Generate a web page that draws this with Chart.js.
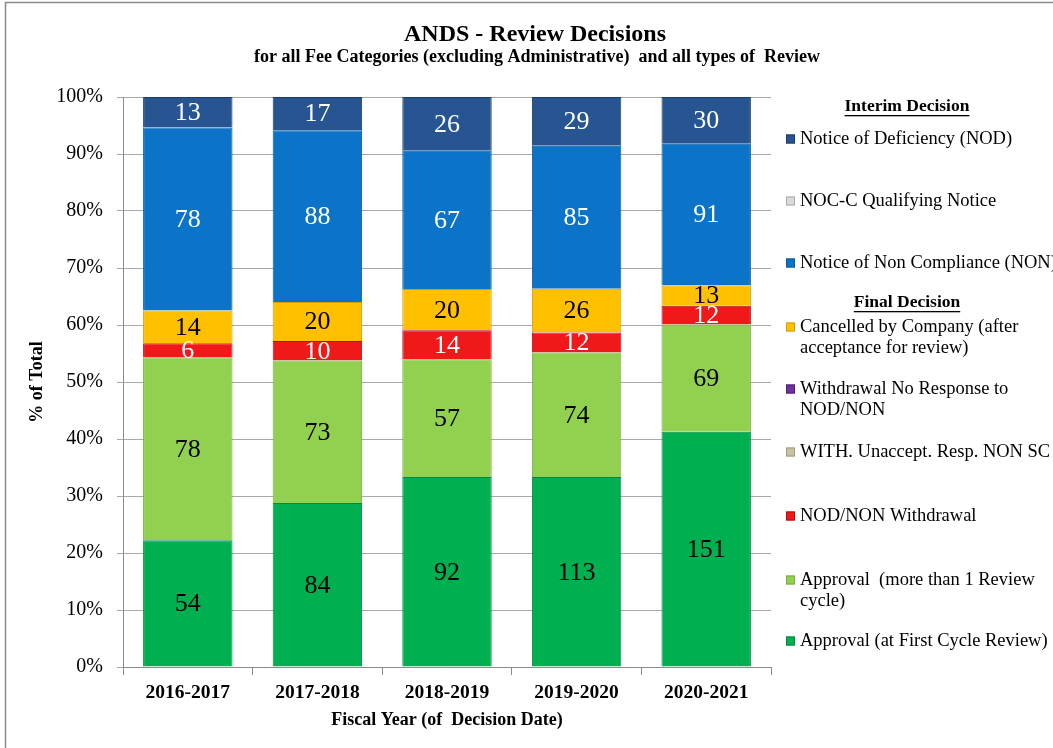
<!DOCTYPE html>
<html>
<head>
<meta charset="utf-8">
<script src="https://cdn.jsdelivr.net/npm/chart.js@4.4.0/dist/chart.umd.min.js"></script>
<style>
    html, body { margin: 0; padding: 0; background: #fff; }
    #wrap { width: 1053px; height: 748px; position: relative; }
</style>
</head>
<body>
<div id="wrap"><canvas id="chart"></canvas></div>
<script>
// Fiscal years (x categories)
const years = ['2016-2017', '2017-2018', '2018-2019', '2019-2020', '2020-2021'];

// Counts per decision type
const approvalFirst = [54, 84, 92, 113, 151];
const approvalMore = [78, 73, 57, 74, 69];
const nodNonWithdrawal = [6, 10, 14, 12, 12];
const withUnaccept = [0, 0, 0, 0, 0];
const withdrawalNoResponse = [0, 0, 0, 0, 0];
const cancelled = [14, 20, 20, 26, 13];
const nonCompliance = [78, 88, 67, 85, 91];
const nocQualifying = [0, 0, 0, 0, 0];
const deficiency = [13, 17, 26, 29, 30];

const chartTitle = 'ANDS - Review Decisions';
const chartSubtitle = 'for all Fee Categories (excluding Administrative)  and all types of  Review';

const SERIF = '"Liberation Serif", "Times New Roman", serif';

// Stack order, bottom to top
const series = [
    { id: 'first', label: 'Approval (at First Cycle Review)', counts: approvalFirst, color: '#00b050', edge: '#00893f', text: '#000' },
    { id: 'more', label: 'Approval  (more than 1 Review cycle)', counts: approvalMore, color: '#92d050', edge: '#76ad3a', text: '#000' },
    { id: 'withdrawal', label: 'NOD/NON Withdrawal', counts: nodNonWithdrawal, color: '#f01818', edge: '#b31010', text: '#fff' },
    { id: 'unaccept', label: 'WITH. Unaccept. Resp. NON SC', counts: withUnaccept, color: '#c9c3a0', edge: '#9f9a7a', text: '#000' },
    { id: 'noResponse', label: 'Withdrawal No Response to NOD/NON', counts: withdrawalNoResponse, color: '#7030a0', edge: '#4f1f73', text: '#fff' },
    { id: 'cancelled', label: 'Cancelled by Company (after acceptance for review)', counts: cancelled, color: '#ffc000', edge: '#d39e00', text: '#000' },
    { id: 'non', label: 'Notice of Non Compliance (NON)', counts: nonCompliance, color: '#0b74c8', edge: '#095a9b', text: '#fff' },
    { id: 'nocc', label: 'NOC-C Qualifying Notice', counts: nocQualifying, color: '#dadada', edge: '#aaaaaa', text: '#000' },
    { id: 'nod', label: 'Notice of Deficiency (NOD)', counts: deficiency, color: '#265591', edge: '#1a3c68', text: '#fff' }
];

// Right-hand legend, top to bottom
const legendRows = [
    { header: 'Interim Decision', y: 106 },
    { id: 'nod', y: 139, lines: ['Notice of Deficiency (NOD)'] },
    { id: 'nocc', y: 201, lines: ['NOC-C Qualifying Notice'] },
    { id: 'non', y: 263, lines: ['Notice of Non Compliance (NON)'] },
    { header: 'Final Decision', y: 302 },
    { id: 'cancelled', y: 327, lines: ['Cancelled by Company (after', 'acceptance for review)'] },
    { id: 'noResponse', y: 389, lines: ['Withdrawal No Response to', 'NOD/NON'] },
    { id: 'unaccept', y: 452, lines: ['WITH. Unaccept. Resp. NON SC'] },
    { id: 'withdrawal', y: 516, lines: ['NOD/NON Withdrawal'] },
    { id: 'more', y: 580, lines: ['Approval  (more than 1 Review', 'cycle)'] },
    { id: 'first', y: 641, lines: ['Approval (at First Cycle Review)'] }
];

const totals = years.map((_, i) => series.reduce((s, d) => s + d.counts[i], 0));

const datasets = series.map(s => ({
    label: s.label,
    seriesId: s.id,
    counts: s.counts,
    labelColor: s.text,
    data: s.counts.map((v, i) => v / totals[i] * 100),
    backgroundColor: s.color,
    borderColor: s.edge,
    borderWidth: 1,
    barPercentage: 0.69,
    categoryPercentage: 1
}));

// White page, outer frame and the two-line heading
const frameAndTitle = {
    id: 'frameAndTitle',
    beforeDraw(chart) {
        const ctx = chart.ctx;
        ctx.save();
        ctx.fillStyle = '#fff';
        ctx.fillRect(0, 0, chart.width, chart.height);
        ctx.strokeStyle = '#8c8c8c';
        ctx.lineWidth = 1.5;
        ctx.beginPath();
        ctx.moveTo(5.5, chart.height);
        ctx.lineTo(5.5, 2.5);
        ctx.lineTo(chart.width, 2.5);
        ctx.stroke();
        ctx.fillStyle = '#000';
        ctx.textAlign = 'center';
        ctx.textBaseline = 'middle';
        ctx.font = 'bold 24px ' + SERIF;
        ctx.fillText(chartTitle, 535, 35);
        ctx.font = 'bold 18px ' + SERIF;
        ctx.fillText(chartSubtitle, 537, 57);
        ctx.restore();
    }
};

// Count labels centred in each segment
const segmentLabels = {
    id: 'segmentLabels',
    afterDatasetsDraw(chart) {
        const ctx = chart.ctx;
        ctx.save();
        ctx.font = '26px ' + SERIF;
        ctx.textAlign = 'center';
        ctx.textBaseline = 'middle';
        chart.data.datasets.forEach((ds, di) => {
            const meta = chart.getDatasetMeta(di);
            meta.data.forEach((bar, i) => {
                const n = ds.counts[i];
                if (!n) return;
                ctx.fillStyle = ds.labelColor;
                ctx.fillText(String(n), bar.x, (bar.y + bar.base) / 2 + 1);
            });
        });
        ctx.restore();
    }
};

// Grouped legend with section headers
const groupedLegend = {
    id: 'groupedLegend',
    afterDraw(chart) {
        const ctx = chart.ctx;
        ctx.save();
        ctx.textBaseline = 'middle';
        legendRows.forEach(row => {
            if (row.header) {
                ctx.font = 'bold 17.5px ' + SERIF;
                ctx.fillStyle = '#000';
                ctx.textAlign = 'center';
                ctx.fillText(row.header, 907, row.y);
                const w = ctx.measureText(row.header).width;
                ctx.fillRect(907 - w / 2, row.y + 9, w, 1.3);
                return;
            }
            const ds = chart.data.datasets.find(d => d.seriesId === row.id);
            ctx.fillStyle = ds.backgroundColor;
            ctx.fillRect(786, row.y - 4.5, 9, 9);
            ctx.strokeStyle = ds.borderColor;
            ctx.lineWidth = 1;
            ctx.strokeRect(786.5, row.y - 4, 8, 8);
            ctx.fillStyle = '#000';
            ctx.textAlign = 'left';
            ctx.font = '18.5px ' + SERIF;
            row.lines.forEach((line, k) => ctx.fillText(line, 800, row.y + k * 21));
        });
        ctx.restore();
    }
};

new Chart(document.getElementById('chart'), {
    type: 'bar',
    data: { labels: years, datasets },
    options: {
        responsive: true,
        maintainAspectRatio: false,
        animation: false,
        layout: { padding: { top: 97, right: 282, left: 0, bottom: 0 } },
        plugins: {
            legend: { display: false },
            tooltip: { enabled: false }
        },
        scales: {
            x: {
                stacked: true,
                afterFit: scale => { scale.height = 81; },
                grid: { drawOnChartArea: false, drawTicks: true, tickLength: 8, color: '#8c8c8c' },
                border: { color: '#8c8c8c' },
                ticks: { color: '#000', padding: 6, font: { family: SERIF, size: 19.5, weight: 'bold' } },
                title: {
                    display: true,
                    text: 'Fiscal Year (of  Decision Date)',
                    color: '#000',
                    font: { family: SERIF, size: 18, weight: 'bold' },
                    padding: { top: 0, bottom: 17 }
                }
            },
            y: {
                stacked: true,
                min: 0,
                max: 100,
                afterFit: scale => { scale.width = 123; },
                grid: { color: '#a8a8a8', tickLength: 6 },
                border: { color: '#8c8c8c' },
                ticks: {
                    stepSize: 10,
                    color: '#000',
                    padding: 14,
                    font: { family: SERIF, size: 20 },
                    callback: v => v + '%'
                },
                title: {
                    display: true,
                    text: '% of Total',
                    color: '#000',
                    font: { family: SERIF, size: 18, weight: 'bold' },
                    padding: { top: 27, bottom: 0 }
                }
            }
        }
    },
    plugins: [frameAndTitle, segmentLabels, groupedLegend]
});
</script>
</body>
</html>
